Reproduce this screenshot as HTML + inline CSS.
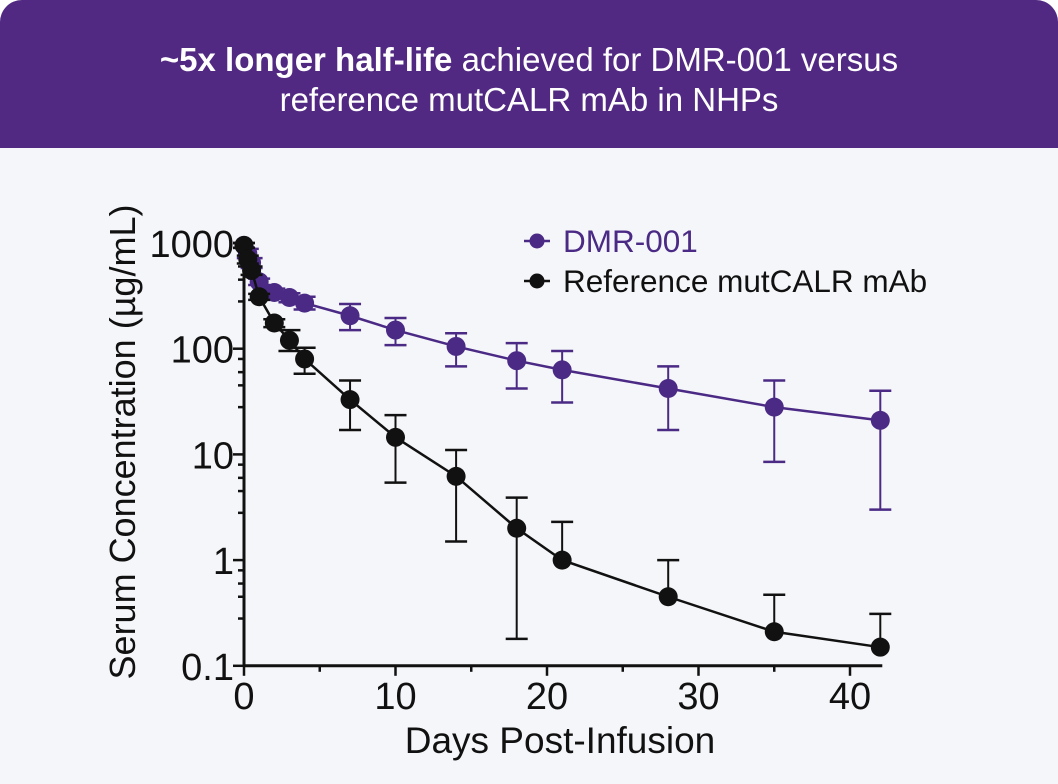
<!DOCTYPE html>
<html><head><meta charset="utf-8"><style>
html,body{margin:0;padding:0;background:#fff;}
#card{position:relative;width:1058px;height:784px;background:#f5f6f9;border-radius:22px 22px 0 0;overflow:hidden;font-family:"Liberation Sans",Arial,sans-serif;}
#hdr{position:absolute;left:0;top:0;width:1058px;height:148px;background:#512882;color:#fff;text-align:center;font-size:33px;line-height:40px;padding-top:40px;box-sizing:border-box;}
svg{position:absolute;left:0;top:0;}
</style></head><body>
<div id="card">
<div id="hdr"><b>~5x longer half-life</b> achieved for DMR-001 versus<br>reference mutCALR mAb in NHPs</div>
<svg id="chart" width="1058" height="784"></svg>
</div>
<script>
const days = [0,0.25,0.5,1,2,3,4,7,10,14,18,21,28,35,42];
const dmrMean = [950,800,650,430,340,305,270,205,150,105,77,63,42,28,21];
const dmrLo = [900,720,580,400,310,275,235,150,108,68,42,31,17,8.5,3];
const dmrHi = [1000,880,720,460,370,335,310,265,195,140,113,95,68,50,40];
const refMean = [950,700,550,310,175,120,80,33,14.5,6.2,2.0,1.0,0.45,0.21,0.15];
const refLo = [900,640,500,290,160,95,58,17,5.4,1.5,0.18,1.0,0.45,0.21,0.15];
const refHi = [1000,760,600,330,190,150,102,50,23.5,11,3.9,2.3,1.0,0.47,0.31];
const yTicks = [1000,100,10,1,0.1];
const yTickLabels = ["1000","100","10","1","0.1"];
const xTicks = [0,10,20,30,40];
const xMinor = [5,15,25,35];
const yMinorFactors = [0.8,0.6,0.45,0.28];

const NS="http://www.w3.org/2000/svg";
const svg=document.getElementById('chart');
const X0=244, XS=15.15, Y3=243, DEC=105.7;
const xp=d=>X0+d*XS;
const yp=v=>Y3+(3-Math.log10(v))*DEC;
function el(t,a,p){const e=document.createElementNS(NS,t);for(const k in a)e.setAttribute(k,a[k]);(p||svg).appendChild(e);return e;}

const ax=el('g',{});


let e=el('line',{x1:X0,y1:yp(1000),x2:X0,y2:yp(0.1)+1,stroke:'#111','stroke-width':3},ax);

e=el('line',{x1:X0-1,y1:yp(0.1),x2:xp(42)+2,y2:yp(0.1),stroke:'#111','stroke-width':3},ax);

yTicks.forEach((v,i)=>{
  const y=yp(v);
  el('line',{x1:X0-11,y1:y,x2:X0,y2:y,stroke:'#111','stroke-width':2.5},ax);
  const t=el('text',{x:X0-10,y:y+14,'text-anchor':'end','font-size':38,fill:'#111'},ax);
  t.textContent=yTickLabels[i];
  
  
  if(v>0.1) yMinorFactors.forEach(f=>{const yy=yp(v*f);el('line',{x1:X0-6,y1:yy,x2:X0,y2:yy,stroke:'#111','stroke-width':2.5},ax);});
});
xTicks.forEach(d=>{
  const x=xp(d);
  el('line',{x1:x,y1:yp(0.1),x2:x,y2:yp(0.1)+10,stroke:'#111','stroke-width':2.5},ax);
  const t=el('text',{x:x,y:yp(0.1)+43,'text-anchor':'middle','font-size':38,fill:'#111'},ax);
  t.textContent=d;
  
  
});
xMinor.forEach(d=>{const x=xp(d);el('line',{x1:x,y1:yp(0.1),x2:x,y2:yp(0.1)+6,stroke:'#111','stroke-width':2.5},ax);});
let t=el('text',{x:560,y:753,'text-anchor':'middle','font-size':37,fill:'#111'});
t.textContent='Days Post-Infusion';

t=el('text',{x:0,y:0,'text-anchor':'middle','font-size':36,fill:'#111',transform:'translate(135,442) rotate(-90)'});
t.textContent='Serum Concentration (µg/mL)';


function series(mean,lo,hi,col,name){
  const g=el('g',{});
  
  
  days.forEach((d,i)=>{
    const x=xp(d);
    el('line',{x1:x,y1:yp(lo[i]),x2:x,y2:yp(hi[i]),stroke:col,'stroke-width':2},g);
    [lo[i],hi[i]].forEach(v=>{if(v!==mean[i])el('line',{x1:x-11,y1:yp(v),x2:x+11,y2:yp(v),stroke:col,'stroke-width':2.5},g);});
  });
  const p=el('polyline',{points:days.map((d,i)=>xp(d)+','+yp(mean[i])).join(' '),fill:'none',stroke:col,'stroke-width':2.5},g);
  
  
  days.forEach((d,i)=>{
    const c=el('circle',{cx:xp(d),cy:yp(mean[i]),r:9.5,fill:col},g);
    
    
  });
}
series(dmrMean,dmrLo,dmrHi,'#4b2a85','dmr-001');
series(refMean,refLo,refHi,'#111','reference-mab');

function legend(y,col,label,name,tc){
  const g=el('g',{});
  
  
  el('line',{x1:524,y1:y,x2:550,y2:y,stroke:col,'stroke-width':2.5},g);
  el('circle',{cx:537,cy:y,r:7.5,fill:col},g);
  const tt=el('text',{x:563,y:y+11,'font-size':31.5,fill:tc},g);
  tt.textContent=label;
}
legend(241,'#4b2a85','DMR-001','legend-entry-dmr-001','#4b2a85');
legend(281,'#111','Reference mutCALR mAb','legend-entry-reference','#111');
</script>
</body></html>
